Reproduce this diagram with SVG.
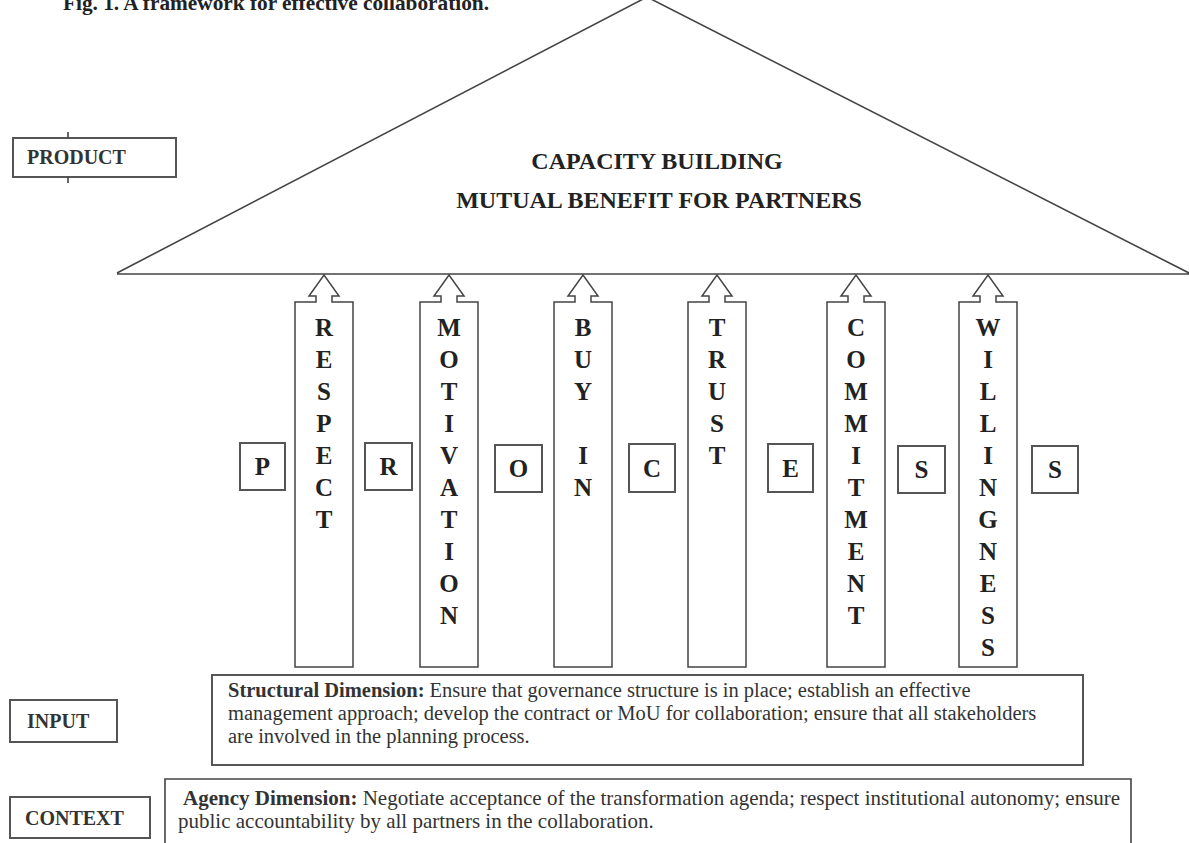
<svg xmlns="http://www.w3.org/2000/svg" width="1189" height="843" viewBox="0 0 1189 843">
<style>
.ln{fill:none;stroke:#444;stroke-width:1.6}
.bx{fill:#fff;stroke:#555;stroke-width:2}
.pl{fill:#fff;stroke:#444;stroke-width:1.5}
.t{font-family:"Liberation Serif",serif;fill:#222}
.b{font-weight:bold}
.lab{font-family:"Liberation Serif",serif;font-weight:bold;font-size:20px;fill:#333}
.cap{font-family:"Liberation Serif",serif;font-weight:bold;font-size:24px;fill:#222;text-anchor:middle}
.pv{font-family:"Liberation Serif",serif;font-weight:bold;font-size:25px;fill:#222;text-anchor:middle}
.bl{font-family:"Liberation Serif",serif;font-weight:bold;font-size:25px;fill:#222;text-anchor:middle}
.d{font-family:"Liberation Serif",serif;font-size:20.5px;fill:#333}
.a{font-family:"Liberation Serif",serif;font-size:21px;fill:#333}
</style>
<rect width="1189" height="843" fill="#fff"/>
<text class="t b" x="63" y="10" font-size="21.3">Fig. 1. A framework for effective collaboration.</text>

<g id="roof">
<path class="ln" d="M117,273 L647,-3 L1189,273 M117,274 H1189"/>
<text class="cap" x="657" y="169">CAPACITY BUILDING</text>
<text class="cap" x="659" y="208">MUTUAL BENEFIT FOR PARTNERS</text>
</g>

<g id="product">
<rect class="bx" x="13" y="138" width="163" height="39"/>
<path class="ln" d="M68,132 V138 M68,177 V183" stroke-width="1"/>
<text class="lab" x="27" y="164">PRODUCT</text>
</g>

<g id="pillar-respect">
<path class="pl" d="M295,667 V302 H316 V296 H309 L324,275 L339,296 H332 V302 H353 V667 Z"/>
<text class="pv"><tspan x="324" y="336">R</tspan><tspan x="324" y="368">E</tspan><tspan x="324" y="400">S</tspan><tspan x="324" y="432">P</tspan><tspan x="324" y="464">E</tspan><tspan x="324" y="496">C</tspan><tspan x="324" y="528">T</tspan></text>
</g>
<g id="pillar-motivation">
<path class="pl" d="M420,667 V302 H441 V296 H434 L449,275 L464,296 H457 V302 H478 V667 Z"/>
<text class="pv"><tspan x="449" y="336">M</tspan><tspan x="449" y="368">O</tspan><tspan x="449" y="400">T</tspan><tspan x="449" y="432">I</tspan><tspan x="449" y="464">V</tspan><tspan x="449" y="496">A</tspan><tspan x="449" y="528">T</tspan><tspan x="449" y="560">I</tspan><tspan x="449" y="592">O</tspan><tspan x="449" y="624">N</tspan></text>
</g>
<g id="pillar-buyin">
<path class="pl" d="M554,667 V302 H575 V296 H568 L583,275 L598,296 H591 V302 H612 V667 Z"/>
<text class="pv"><tspan x="583" y="336">B</tspan><tspan x="583" y="368">U</tspan><tspan x="583" y="400">Y</tspan><tspan x="583" y="464">I</tspan><tspan x="583" y="496">N</tspan></text>
</g>
<g id="pillar-trust">
<path class="pl" d="M688,667 V302 H709 V296 H702 L717,275 L732,296 H725 V302 H746 V667 Z"/>
<text class="pv"><tspan x="717" y="336">T</tspan><tspan x="717" y="368">R</tspan><tspan x="717" y="400">U</tspan><tspan x="717" y="432">S</tspan><tspan x="717" y="464">T</tspan></text>
</g>
<g id="pillar-commitment">
<path class="pl" d="M827,667 V302 H848 V296 H841 L856,275 L871,296 H864 V302 H885 V667 Z"/>
<text class="pv"><tspan x="856" y="336">C</tspan><tspan x="856" y="368">O</tspan><tspan x="856" y="400">M</tspan><tspan x="856" y="432">M</tspan><tspan x="856" y="464">I</tspan><tspan x="856" y="496">T</tspan><tspan x="856" y="528">M</tspan><tspan x="856" y="560">E</tspan><tspan x="856" y="592">N</tspan><tspan x="856" y="624">T</tspan></text>
</g>
<g id="pillar-willingness">
<path class="pl" d="M959,667 V302 H980 V296 H973 L988,275 L1003,296 H996 V302 H1017 V667 Z"/>
<text class="pv"><tspan x="988" y="336">W</tspan><tspan x="988" y="368">I</tspan><tspan x="988" y="400">L</tspan><tspan x="988" y="432">L</tspan><tspan x="988" y="464">I</tspan><tspan x="988" y="496">N</tspan><tspan x="988" y="528">G</tspan><tspan x="988" y="560">N</tspan><tspan x="988" y="592">E</tspan><tspan x="988" y="624">S</tspan><tspan x="988" y="656">S</tspan></text>
</g>

<g id="process-P"><rect class="bx" x="240" y="443" width="45" height="47"/><text class="bl" x="262.5" y="475">P</text></g>
<g id="process-R"><rect class="bx" x="365" y="443" width="47" height="47"/><text class="bl" x="388.5" y="475">R</text></g>
<g id="process-O"><rect class="bx" x="495" y="445" width="47" height="47"/><text class="bl" x="518.5" y="477">O</text></g>
<g id="process-C"><rect class="bx" x="629" y="444" width="46" height="48"/><text class="bl" x="652" y="477">C</text></g>
<g id="process-E"><rect class="bx" x="768" y="444" width="45" height="48"/><text class="bl" x="790.5" y="477">E</text></g>
<g id="process-S1"><rect class="bx" x="898" y="446" width="47" height="47"/><text class="bl" x="921.5" y="478">S</text></g>
<g id="process-S2"><rect class="bx" x="1032" y="446" width="46" height="47"/><text class="bl" x="1055" y="478">S</text></g>

<g id="input">
<rect class="bx" x="10" y="700" width="107" height="42"/>
<text class="lab" x="27" y="728">INPUT</text>
</g>
<g id="structural">
<rect class="bx" x="212" y="675" width="871" height="90"/>
<text class="d" x="228" y="697"><tspan font-weight="bold">Structural Dimension:</tspan> Ensure that governance structure is in place; establish an effective</text>
<text class="d" x="228" y="720">management approach; develop the contract or MoU for collaboration; ensure that all stakeholders</text>
<text class="d" x="228" y="743">are involved in the planning process.</text>
</g>
<g id="context">
<rect class="bx" x="10" y="797" width="140" height="41"/>
<text class="lab" x="25" y="825">CONTEXT</text>
</g>
<g id="agency">
<path class="ln" stroke-width="2" d="M165,850 V779 H1131 V850"/>
<text class="a" x="183" y="805"><tspan font-weight="bold">Agency Dimension:</tspan> Negotiate acceptance of the transformation agenda; respect institutional autonomy; ensure</text>
<text class="a" x="178" y="828">public accountability by all partners in the collaboration.</text>
</g>
</svg>
